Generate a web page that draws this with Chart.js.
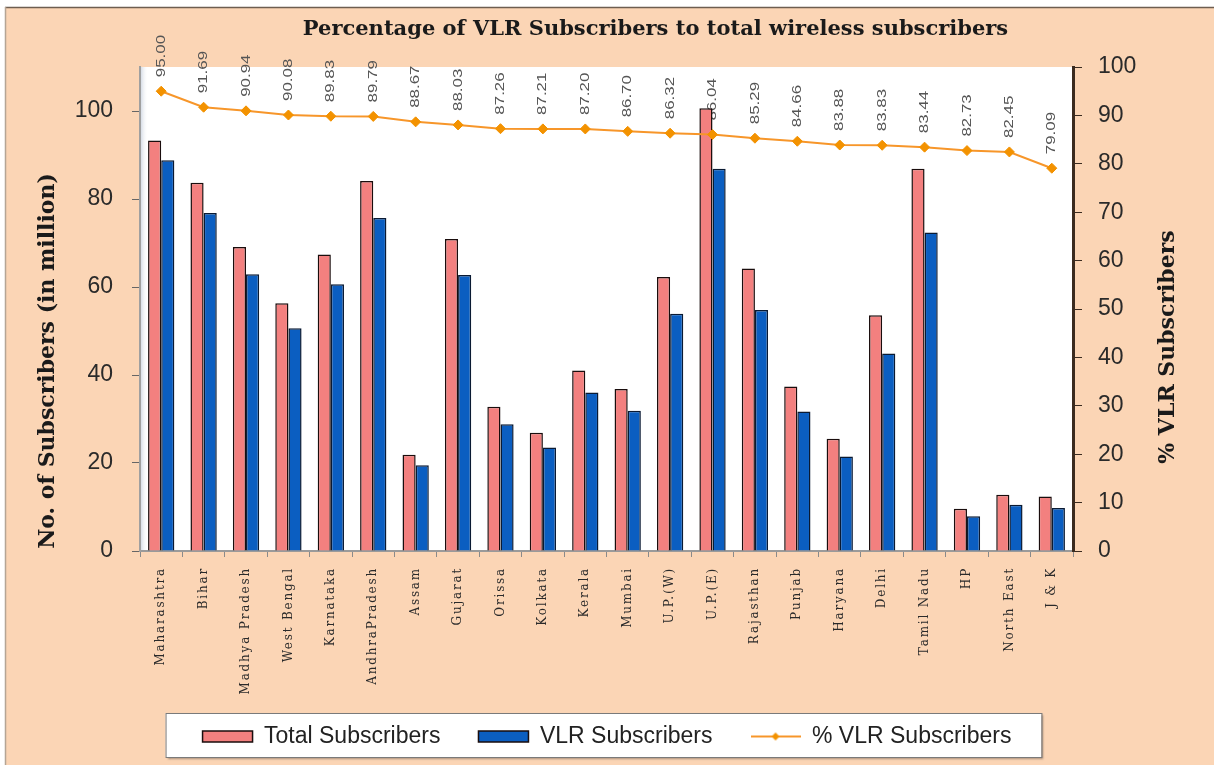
<!DOCTYPE html>
<html>
<head>
<meta charset="utf-8">
<script src="https://cdn.jsdelivr.net/npm/chart.js@4.4.1/dist/chart.umd.min.js"></script>
<style>
  html, body { margin: 0; padding: 0; background: #ffffff; }
  canvas { display: block; }
</style>
</head>
<body>
<canvas id="c" width="1214" height="765"></canvas>
<script>
// ---------------- DATA ----------------
const categories = ['Maharashtra', 'Bihar', 'Madhya Pradesh', 'West Bengal', 'Karnataka', 'AndhraPradesh',
  'Assam', 'Gujarat', 'Orissa', 'Kolkata', 'Kerala', 'Mumbai', 'U.P.(W)', 'U.P.(E)', 'Rajasthan',
  'Punjab', 'Haryana', 'Delhi', 'Tamil Nadu', 'HP', 'North East', 'J & K'];
const totalSubscribers = [93.3, 83.7, 69.1, 56.3, 67.4, 84.1, 21.9, 70.9, 32.8, 26.9, 41.0,
  36.8, 62.3, 100.6, 64.2, 37.4, 25.5, 53.6, 86.9, 9.6, 12.8, 12.4];
const vlrSubscribers = [88.8, 76.8, 62.9, 50.6, 60.6, 75.7, 19.5, 62.7, 28.8, 23.5, 36.0,
  31.9, 53.9, 86.9, 54.8, 31.7, 21.5, 44.9, 72.4, 7.9, 10.5, 9.8];
const vlrPercent = [95.00, 91.69, 90.94, 90.08, 89.83, 89.79, 88.67, 88.03, 87.26, 87.21, 87.20,
  86.70, 86.32, 86.04, 85.29, 84.66, 83.88, 83.83, 83.44, 82.73, 82.45, 79.09];
const leftTicks = [0, 20, 40, 60, 80, 100];
const rightTicks = [0, 10, 20, 30, 40, 50, 60, 70, 80, 90, 100];

const chartTitle = 'Percentage of VLR Subscribers to total wireless subscribers';
const leftTitle = 'No. of Subscribers (in million)';
const rightTitle = '% VLR Subscribers';
const seriesNames = ['Total Subscribers', 'VLR Subscribers', '% VLR Subscribers'];

// ---------------- STYLE ----------------
const PEACH = '#FBD5B5';
const PINK = '#F3807F';
const BLUE = '#0B5EC1';
const LINE = '#F7962A';
const POINT = '#F39200';

// custom category scale: spaced serif labels like the reference, not clipped
class SpacedCategoryScale extends Chart.CategoryScale {
  _computeLabelArea() { return undefined; }
  drawLabels(chartArea) {
    const ctx = this.ctx;
    ctx.save();
    try { ctx.letterSpacing = '1.8px'; } catch (e) {}
    super.drawLabels(chartArea);
    ctx.restore();
  }
}
SpacedCategoryScale.id = 'spacedCategory';
SpacedCategoryScale.defaults = Chart.CategoryScale.defaults;
Chart.register(SpacedCategoryScale);

// legend image for the line series
const lineLegend = document.createElement('canvas');
lineLegend.width = 50; lineLegend.height = 12;
(function () {
  const g = lineLegend.getContext('2d');
  g.strokeStyle = LINE; g.lineWidth = 2;
  g.beginPath(); g.moveTo(0, 6); g.lineTo(50, 6); g.stroke();
  g.fillStyle = POINT;
  g.beginPath(); g.moveTo(25, 2); g.lineTo(29, 6); g.lineTo(25, 10); g.lineTo(21, 6); g.closePath(); g.fill();
})();

const decor = {
  id: 'decor',
  beforeDraw(chart) {
    const { ctx, chartArea: a } = chart;
    ctx.save();
    ctx.fillStyle = '#ffffff';
    ctx.fillRect(0, 0, chart.width, chart.height);
    ctx.fillStyle = PEACH;
    ctx.fillRect(5, 7, chart.width - 5, chart.height - 7);
    ctx.lineWidth = 1.5;
    ctx.strokeStyle = '#6e5e50';
    ctx.beginPath(); ctx.moveTo(5, 7.5); ctx.lineTo(chart.width, 7.5); ctx.stroke();
    ctx.strokeStyle = '#b5a595';
    ctx.beginPath(); ctx.moveTo(5.5, 7); ctx.lineTo(5.5, chart.height); ctx.stroke();
    // plot area
    ctx.fillStyle = '#ffffff';
    ctx.fillRect(a.left, a.top, a.right - a.left, a.bottom - a.top);
    const grad = ctx.createLinearGradient(a.left, 0, a.left + 8, 0);
    grad.addColorStop(0, 'rgba(190,200,215,0.8)');
    grad.addColorStop(1, 'rgba(255,255,255,0)');
    ctx.fillStyle = grad;
    ctx.fillRect(a.left, a.top, 8, a.bottom - a.top);
    // legend frame
    const lg = chart.legend;
    if (lg && lg.legendHitBoxes && lg.legendHitBoxes.length) {
      const hb = lg.legendHitBoxes;
      const last = hb[hb.length - 1];
      const x0 = hb[0].left - 37, x1 = last.left + last.width + 30;
      const y0 = hb[0].top - 12, y1 = hb[0].top + 32;
      ctx.shadowColor = 'rgba(0,0,0,0.35)';
      ctx.shadowOffsetX = 2; ctx.shadowOffsetY = 2; ctx.shadowBlur = 2;
      ctx.fillStyle = '#ffffff';
      ctx.fillRect(x0, y0, x1 - x0, y1 - y0);
      ctx.shadowColor = 'transparent';
      ctx.strokeStyle = '#7a7a7a'; ctx.lineWidth = 1;
      ctx.strokeRect(x0 + 0.5, y0 + 0.5, x1 - x0, y1 - y0);
    }
    ctx.restore();
  },
  beforeDatasetsDraw(chart) {
    const { ctx } = chart;
    const meta = chart.getDatasetMeta(2);
    ctx.save();
    ctx.fillStyle = '#555555';
    ctx.font = '13px "Liberation Sans", Arial, sans-serif';
    ctx.textAlign = 'left';
    ctx.textBaseline = 'middle';
    meta.data.forEach((pt, i) => {
      ctx.save();
      ctx.translate(pt.x, pt.y - 14);
      ctx.rotate(-Math.PI / 2);
      ctx.scale(1.3, 1);
      ctx.fillText(vlrPercent[i].toFixed(2), 0, 0);
      ctx.restore();
    });
    ctx.restore();
  },
  afterDraw(chart) {
    const { ctx, chartArea: a } = chart;
    ctx.save();
    ctx.fillStyle = '#1a1a1a';
    ctx.textAlign = 'center';
    ctx.textBaseline = 'middle';
    ctx.font = 'bold 21px "DejaVu Serif", serif';
    ctx.fillText(chartTitle, (a.left + a.right) / 2 + 49, 30);
    ctx.font = 'bold 22px "DejaVu Serif", serif';
    ctx.save();
    ctx.translate(a.left - 92, 361);
    ctx.rotate(-Math.PI / 2);
    ctx.fillText(leftTitle, 0, 0);
    ctx.restore();
    ctx.save();
    ctx.translate(a.right + 95, 347);
    ctx.rotate(-Math.PI / 2);
    ctx.fillText(rightTitle, 0, 0);
    ctx.restore();
    ctx.restore();
  }
};

new Chart(document.getElementById('c'), {
  type: 'bar',
  data: {
    labels: categories,
    datasets: [
      { label: seriesNames[0], data: totalSubscribers, yAxisID: 'yL', order: 1,
        backgroundColor: PINK, borderColor: '#1a0d0d', borderWidth: 1.5,
        categoryPercentage: 0.62, barPercentage: 1.0 },
      { label: seriesNames[1], data: vlrSubscribers, yAxisID: 'yL', order: 1,
        backgroundColor: BLUE, borderColor: '#0a1a33', borderWidth: 1.5,
        categoryPercentage: 0.62, barPercentage: 1.0 },
      { type: 'line', label: seriesNames[2], data: vlrPercent, yAxisID: 'yR', order: 0,
        borderColor: LINE, borderWidth: 2, tension: 0,
        pointStyle: 'rectRot', pointRadius: 5, pointBackgroundColor: POINT, pointBorderColor: POINT,
        pointBorderWidth: 1 }
    ]
  },
  options: {
    responsive: false,
    devicePixelRatio: 1,
    animation: false,
    layout: { padding: { top: 67, left: 0, right: 0, bottom: 7 } },
    plugins: {
      title: { display: false },
      tooltip: { enabled: false },
      legend: {
        position: 'bottom',
        labels: {
          usePointStyle: true,
          pointStyleWidth: 50,
          boxWidth: 50,
          boxHeight: 11,
          padding: 38,
          color: '#222222',
          font: { family: '"Liberation Sans", Arial, sans-serif', size: 23 },
          generateLabels(chart) {
            const items = Chart.defaults.plugins.legend.labels.generateLabels(chart);
            items.forEach(it => {
              if (it.datasetIndex === 2) {
                it.pointStyle = lineLegend;
              } else {
                it.pointStyle = 'rect';
                it.rotation = 0;
                it.lineWidth = 1.5;
                it.strokeStyle = '#1a0d0d';
              }
            });
            items.sort((p, q) => p.datasetIndex - q.datasetIndex);
            return items;
          }
        }
      }
    },
    scales: {
      x: {
        type: 'spacedCategory',
        offset: true,
        grid: { display: true, offset: true, drawOnChartArea: false, drawTicks: true, tickLength: 6, color: '#8a8a8a' },
        border: { display: true, color: '#9a9a9a', width: 2 },
        ticks: { minRotation: 90, maxRotation: 90, autoSkip: false, padding: 10, color: '#2a2a2a',
          font: { family: '"DejaVu Serif", serif', size: 12 } },
        afterFit(s) { s.height = 136; }
      },
      yL: {
        type: 'linear', position: 'left', min: 0, max: 110,
        afterBuildTicks(s) { s.ticks = leftTicks.map(v => ({ value: v })); },
        grid: { drawOnChartArea: false, drawTicks: true, tickLength: 8, color: '#666666' },
        border: { display: true, color: '#a0a0a0', width: 2 },
        ticks: { padding: 19, color: '#2a2a2a', font: { family: '"Liberation Sans", Arial, sans-serif', size: 23 } },
        afterFit(s) { s.width = 140; }
      },
      yR: {
        type: 'linear', position: 'right', min: 0, max: 100,
        afterBuildTicks(s) { s.ticks = rightTicks.map(v => ({ value: v })); },
        grid: { drawOnChartArea: false, drawTicks: true, tickLength: 9, color: '#3b2b1f' },
        border: { display: true, color: '#3b2b1f', width: 3 },
        ticks: { padding: 16, color: '#2a2a2a', font: { family: '"Liberation Sans", Arial, sans-serif', size: 23 } },
        afterFit(s) { s.width = 141; }
      }
    }
  },
  plugins: [decor]
});
</script>
</body>
</html>
